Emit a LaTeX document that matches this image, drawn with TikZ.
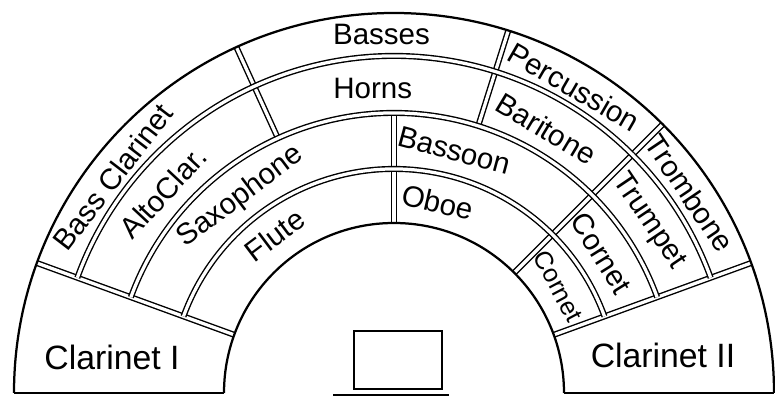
\documentclass[tikz,border=0pt]{standalone}
\usepackage{fontspec}
\setmainfont{Liberation Sans}
\begin{document}
\begin{tikzpicture}[x=0.025cm, y=0.025cm,
    rim/.style={line width=1.6pt},
    divider/.style={double, line width=1pt, double distance=2.3pt},
    seat/.style={font=\fontsize{21}{24}\selectfont, inner sep=0pt},
    small/.style={font=\fontsize{18}{20}\selectfont, inner sep=0pt},
    wide/.style={font=\fontsize{24}{26}\selectfont, inner sep=0pt}]
  \useasboundingbox (-394,-5) rectangle (381,393);
  % radial dividers
  \foreach \a/\ri/\ro in {20/170/380, 45/170/380, 72.5/280/380, 90/170/280, 114.5/280/380, 160/170/380}
    \draw[divider] (\a:\ri) -- (\a:\ro);
  % ring dividers
  \foreach \r in {224, 280, 337}
    \draw[divider] (20:\r) arc[start angle=20, end angle=160, radius=\r];
  % outline
  \draw[rim] (0:380) arc[start angle=0, end angle=180, radius=380];
  \draw[rim] (0:170) arc[start angle=0, end angle=180, radius=170];
  \draw[rim] (-380,0) -- (-170,0);
  \draw[rim] (170,0) -- (380,0);
  % podium
  \draw[rim] (-40,4) rectangle (48,62);
  \draw[rim] (-61,-2) -- (55,-2);
  % sections
  \node[seat, rotate=52.5] (bassclar) at (142.5:355) {Bass Clarinet};
  \node[seat, rotate=47] (altoclar) at (139:306) {AltoClar.};
  \node[seat, rotate=37] (saxophone) at (128:249) {Saxophone};
  \node[seat, rotate=37] (flute) at (127:198) {Flute};
  \node[seat] (basses) at (92:359) {Basses};
  \node[seat] (horns) at (94:305) {Horns};
  \node[seat, rotate=-30] (percussion) at (59.5:355) {Percussion};
  \node[seat, rotate=-31] (baritone) at (60:305) {Baritone};
  \node[seat, rotate=-56] (trombone) at (34:357) {Trombone};
  \node[seat, rotate=-56] (trumpet) at (34:307) {Trumpet};
  \node[seat, rotate=-58] (cornetup) at (34:250) {Cornet};
  \node[small, rotate=-62] (cornetlow) at (33:196) {Cornet};
  \node[seat, rotate=-15] (bassoon) at (76:250) {Bassoon};
  \node[seat, rotate=-13] (oboe) at (77:196) {Oboe};
  \node[wide] (clarone) at (-282,36) {Clarinet I};
  \node[wide] (clartwo) at (269,38) {Clarinet II};
\end{tikzpicture}
\end{document}
